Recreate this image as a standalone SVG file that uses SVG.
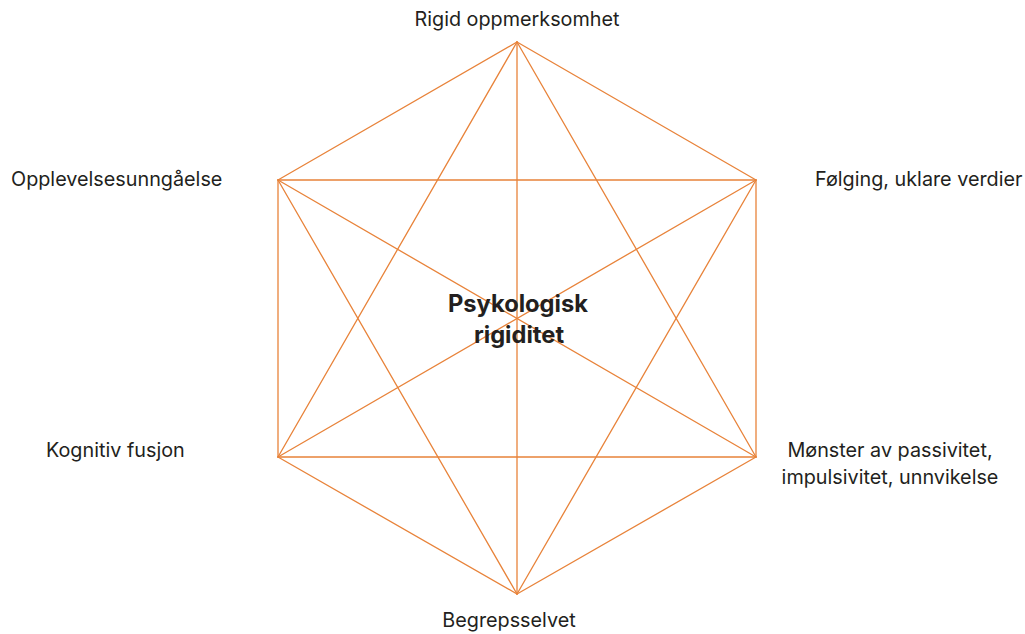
<svg xmlns="http://www.w3.org/2000/svg" width="1025" height="634" viewBox="0 0 1025 634">
  <style>
    .edge { stroke: #E8833A; stroke-width: 1.3; fill: none; stroke-linecap: round; }
    .label { font-family: Inter, "Liberation Sans", sans-serif; font-size: 19.8px; fill: #231F20; }
    .title { font-family: Inter, "Liberation Sans", sans-serif; font-size: 23.7px; font-weight: 700; fill: #231F20; }
  </style>
  <rect width="1025" height="634" fill="#FFFFFF"/>
  <!-- every vertex of the hexagon joined to every other -->
  <g id="connectors">
    <line class="edge" x1="517" y1="42" x2="756" y2="180"/>
    <line class="edge" x1="756" y1="180" x2="756" y2="457"/>
    <line class="edge" x1="756" y1="457" x2="517" y2="594"/>
    <line class="edge" x1="517" y1="594" x2="278" y2="457"/>
    <line class="edge" x1="278" y1="457" x2="278" y2="180"/>
    <line class="edge" x1="278" y1="180" x2="517" y2="42"/>
    <line class="edge" x1="517" y1="42" x2="756" y2="457"/>
    <line class="edge" x1="517" y1="42" x2="278" y2="457"/>
    <line class="edge" x1="517" y1="594" x2="756" y2="180"/>
    <line class="edge" x1="517" y1="594" x2="278" y2="180"/>
    <line class="edge" x1="278" y1="180" x2="756" y2="180"/>
    <line class="edge" x1="278" y1="457" x2="756" y2="457"/>
    <line class="edge" x1="517" y1="42" x2="517" y2="594"/>
    <line class="edge" x1="278" y1="180" x2="756" y2="457"/>
    <line class="edge" x1="756" y1="180" x2="278" y2="457"/>
  </g>
  <g id="node-top">
    <text class="label" x="517" y="26" text-anchor="middle">Rigid oppmerksomhet</text>
  </g>
  <g id="node-upper-right">
    <text class="label" x="815" y="186">Følging, uklare verdier</text>
  </g>
  <g id="node-lower-right">
    <text class="label" x="890" y="457" text-anchor="middle">Mønster av passivitet,</text>
    <text class="label" x="890" y="484" text-anchor="middle">impulsivitet, unnvikelse</text>
  </g>
  <g id="node-bottom">
    <text class="label" x="509" y="627" text-anchor="middle">Begrepsselvet</text>
  </g>
  <g id="node-lower-left">
    <text class="label" x="46" y="457">Kognitiv fusjon</text>
  </g>
  <g id="node-upper-left">
    <text class="label" x="11" y="186">Opplevelsesunngåelse</text>
  </g>
  <g id="node-center">
    <text class="title" x="518" y="312" text-anchor="middle">Psykologisk</text>
    <text class="title" x="519" y="343" text-anchor="middle">rigiditet</text>
  </g>
</svg>
